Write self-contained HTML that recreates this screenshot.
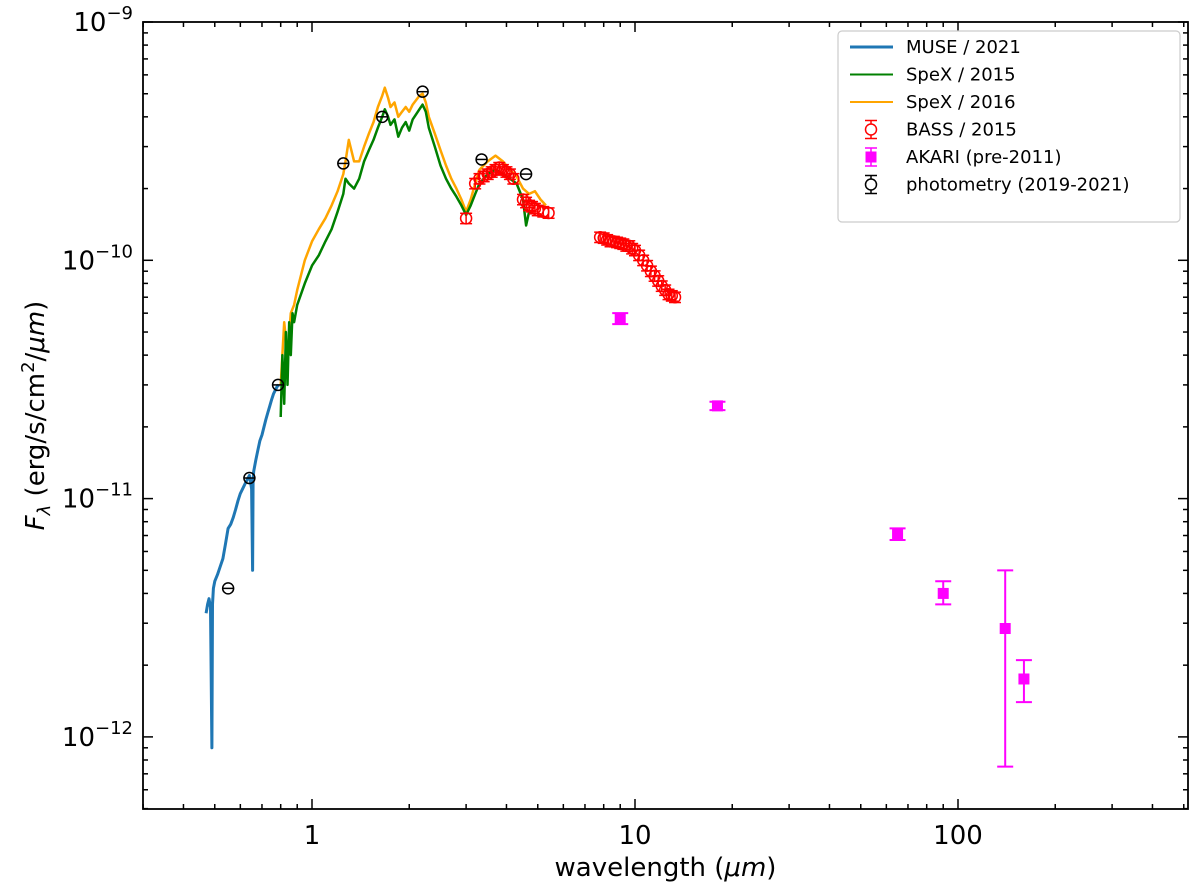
<!DOCTYPE html>
<html><head><meta charset="utf-8">
<style>
html,body{margin:0;padding:0;background:#fff;}
svg{display:block;font-family:"DejaVu Sans","Liberation Sans",sans-serif;}
</style></head>
<body>
<svg id="chart" width="1200" height="889" viewBox="0 0 1200 889" xmlns="http://www.w3.org/2000/svg">
</svg>
<script>
// ---- data ----
const museX=[0.47,0.475,0.48,0.485,0.49,0.492,0.495,0.50,0.51,0.52,0.53,0.54,0.55,0.56,0.57,0.58,0.59,0.60,0.61,0.62,0.63,0.64,0.65,0.655,0.657,0.66,0.67,0.68,0.69,0.70,0.71,0.72,0.73,0.74,0.75,0.76,0.77,0.78,0.79];
const museY=[3.3e-12,3.6e-12,3.8e-12,3.5e-12,9e-13,3.6e-12,4.2e-12,4.5e-12,4.8e-12,5.2e-12,5.6e-12,6.5e-12,7.5e-12,7.8e-12,8.3e-12,9e-12,9.8e-12,1.05e-11,1.1e-11,1.15e-11,1.2e-11,1.25e-11,1.1e-11,5e-12,1.2e-11,1.3e-11,1.45e-11,1.6e-11,1.75e-11,1.85e-11,2e-11,2.15e-11,2.3e-11,2.45e-11,2.6e-11,2.75e-11,2.85e-11,2.95e-11,3e-11];
const spex15X=[0.8,0.81,0.82,0.83,0.84,0.85,0.86,0.87,0.88,0.9,0.95,1.0,1.05,1.1,1.15,1.2,1.25,1.27,1.3,1.35,1.4,1.45,1.5,1.55,1.6,1.65,1.68,1.72,1.75,1.8,1.85,1.9,1.95,2.0,2.05,2.1,2.15,2.2,2.25,2.3,2.4,2.5,2.6,2.7,2.8,2.9,3.0,3.1,3.2,3.3,3.5,3.7,3.9,4.1,4.3,4.5,4.6,4.7,4.8];
const spex15Y=[2.2e-11,4e-11,2.5e-11,5e-11,3e-11,5.5e-11,4e-11,6e-11,5.5e-11,6.5e-11,8e-11,9.5e-11,1.05e-10,1.2e-10,1.35e-10,1.6e-10,1.9e-10,2.2e-10,2.1e-10,2.0e-10,2.2e-10,2.6e-10,2.9e-10,3.2e-10,3.6e-10,4.0e-10,4.3e-10,4.0e-10,3.7e-10,3.9e-10,3.3e-10,3.6e-10,3.8e-10,3.5e-10,3.9e-10,4.1e-10,4.3e-10,4.5e-10,4.2e-10,3.6e-10,3.0e-10,2.5e-10,2.2e-10,2.0e-10,1.85e-10,1.7e-10,1.55e-10,1.7e-10,1.9e-10,2.1e-10,2.3e-10,2.4e-10,2.3e-10,2.2e-10,2.1e-10,1.8e-10,1.4e-10,1.6e-10,1.6e-10];
const spex16X=[0.8,0.82,0.84,0.86,0.88,0.9,0.95,1.0,1.05,1.1,1.15,1.2,1.25,1.27,1.3,1.35,1.4,1.45,1.5,1.55,1.6,1.65,1.68,1.72,1.75,1.8,1.85,1.9,1.95,2.0,2.05,2.1,2.15,2.2,2.25,2.3,2.4,2.5,2.6,2.7,2.8,2.9,3.0,3.1,3.2,3.3,3.5,3.7,3.9,4.1,4.3,4.5,4.7,4.9,5.1,5.3];
const spex16Y=[3e-11,5.5e-11,4e-11,6e-11,6.5e-11,7.5e-11,1e-10,1.2e-10,1.35e-10,1.5e-10,1.7e-10,1.95e-10,2.3e-10,2.6e-10,3.2e-10,2.6e-10,2.6e-10,3.0e-10,3.4e-10,3.8e-10,4.4e-10,4.9e-10,5.3e-10,4.8e-10,4.4e-10,4.6e-10,4.0e-10,4.2e-10,4.4e-10,4.2e-10,4.5e-10,4.7e-10,4.9e-10,5.0e-10,4.6e-10,4.0e-10,3.4e-10,2.9e-10,2.5e-10,2.2e-10,2.0e-10,1.8e-10,1.6e-10,1.8e-10,2.1e-10,2.4e-10,2.6e-10,2.75e-10,2.6e-10,2.4e-10,2.25e-10,2.0e-10,1.9e-10,1.95e-10,1.8e-10,1.7e-10];
const bassX=[3.0,3.2,3.3,3.4,3.5,3.6,3.7,3.8,3.9,4.0,4.1,4.2,4.5,4.6,4.7,4.8,4.9,5.0,5.2,5.4,7.8,8.0,8.2,8.4,8.6,8.8,9.0,9.2,9.4,9.6,9.8,10.0,10.3,10.6,10.9,11.2,11.5,11.8,12.1,12.4,12.7,13.0,13.3];
const bassY=[1.5e-10,2.1e-10,2.2e-10,2.25e-10,2.3e-10,2.35e-10,2.4e-10,2.45e-10,2.4e-10,2.35e-10,2.3e-10,2.2e-10,1.8e-10,1.75e-10,1.7e-10,1.68e-10,1.65e-10,1.62e-10,1.6e-10,1.58e-10,1.25e-10,1.24e-10,1.22e-10,1.2e-10,1.2e-10,1.19e-10,1.18e-10,1.17e-10,1.15e-10,1.15e-10,1.12e-10,1.1e-10,1.05e-10,1.0e-10,0.95e-10,0.9e-10,0.86e-10,0.82e-10,0.78e-10,0.75e-10,0.72e-10,0.71e-10,0.7e-10];
const akariX=[9,18,65,90,140,160];
const akariY=[5.7e-11,2.45e-11,7.1e-12,4.0e-12,2.85e-12,1.75e-12];
const akariLo=[5.4e-11,2.35e-11,6.7e-12,3.6e-12,7.5e-13,1.4e-12];
const akariHi=[6.0e-11,2.55e-11,7.5e-12,4.5e-12,5.0e-12,2.1e-12];
const photX=[0.55,0.64,0.785,1.25,1.65,2.2,3.35,4.6];
const photY=[4.2e-12,1.22e-11,3.0e-11,2.55e-10,4.0e-10,5.1e-10,2.65e-10,2.3e-10];
const xTickVals=[1,10,100];
const xTickLabels=["1","10","100"];
const yTickExps=[-12,-11,-10,-9];

// ---- axes ----
const L=143,R=1188,T=22,B=809;
const X1=312, DX=323, Y9=22, DY=238.3;
const xs=v=>X1+Math.log10(v)*DX;
const ys=v=>Y9+(-9-Math.log10(v))*DY;
const svg=document.getElementById('chart');
const NS="http://www.w3.org/2000/svg";
function mk(tag,attrs,parent){const e=document.createElementNS(NS,tag);for(const k in attrs)e.setAttribute(k,attrs[k]);(parent||svg).appendChild(e);return e;}

const clip=mk('clipPath',{id:'pc'});mk('rect',{x:L,y:T,width:R-L,height:B-T},clip);

const tg=mk('g',{stroke:'#000','stroke-width':1.5});


for(let e=-1;e<=2;e++){for(let m=1;m<10;m++){const v=m*Math.pow(10,e);const x=xs(v);if(x<L||x>R)continue;const len=m===1?10:5;
 mk('line',{x1:x,x2:x,y1:B,y2:B-len},tg);mk('line',{x1:x,x2:x,y1:T,y2:T+len},tg);}}
for(let e=-13;e<=-9;e++){for(let m=1;m<10;m++){const v=m*Math.pow(10,e);const y=ys(v);if(y<T-0.5||y>B)continue;const len=m===1?10:5;
 mk('line',{x1:L,x2:L+len,y1:y,y2:y},tg);mk('line',{x1:R,x2:R-len,y1:y,y2:y},tg);}}
xTickVals.forEach((v,i)=>{const t=mk('text',{x:xs(v),y:B+35,'font-size':26,'text-anchor':'middle'});t.textContent=xTickLabels[i];
 
 });
yTickExps.forEach(e=>{const y=ys(Math.pow(10,e));const t=mk('text',{x:L-10,y:y+9,'font-size':26,'text-anchor':'end'});
 t.innerHTML='10<tspan dy="-12" font-size="18">−'+(-e)+'</tspan>';
 
 });
const xt=mk('text',{x:(L+R)/2,y:876,'font-size':26,'text-anchor':'middle'});xt.innerHTML='wavelength (<tspan font-style="italic">μm</tspan>)';


const yt=mk('text',{x:0,y:0,'font-size':26,'text-anchor':'middle',transform:'translate(44,'+((T+B)/2)+') rotate(-90)'});
yt.innerHTML='<tspan font-style="italic">F</tspan><tspan font-style="italic" font-size="18" dy="6">λ</tspan><tspan dy="-6"> (erg/s/cm</tspan><tspan font-size="18" dy="-10">2</tspan><tspan dy="10">/</tspan><tspan font-style="italic">μm</tspan>)';



const pg=mk('g',{'clip-path':'url(#pc)'});
function line(X,Y,color,w,name){const d=X.map((x,i)=>(i?'L':'M')+xs(x).toFixed(1)+','+ys(Y[i]).toFixed(1)).join('');
 const p=mk('path',{d:d,fill:'none',stroke:color,'stroke-width':w,'stroke-linejoin':'round'},pg);
 
 }
line(spex16X,spex16Y,'#ffa500',2.5,'spex-2016-line');
line(spex15X,spex15Y,'#008000',2.5,'spex-2015-line');
line(museX,museY,'#1f77b4',3,'muse-2021-line');
bassX.forEach((x,i)=>{const cx=xs(x),cy=ys(bassY[i]);const y1=ys(bassY[i]*1.05),y2=ys(bassY[i]*0.95);
 const g=mk('g',{stroke:'red','stroke-width':1.5,fill:'none'},pg);
 
 
 mk('line',{x1:cx,x2:cx,y1:y1,y2:y2},g);mk('line',{x1:cx-6,x2:cx+6,y1:y1,y2:y1},g);mk('line',{x1:cx-6,x2:cx+6,y1:y2,y2:y2},g);
 mk('circle',{cx:cx,cy:cy,r:5.5},g);});
akariX.forEach((x,i)=>{const cx=xs(x),cy=ys(akariY[i]);const y1=ys(akariHi[i]),y2=ys(akariLo[i]);
 const g=mk('g',{stroke:'#ff00ff','stroke-width':2,fill:'#ff00ff'},pg);
 
 
 mk('line',{x1:cx,x2:cx,y1:y1,y2:y2},g);mk('line',{x1:cx-8,x2:cx+8,y1:y1,y2:y1},g);mk('line',{x1:cx-8,x2:cx+8,y1:y2,y2:y2},g);
 mk('rect',{x:cx-5.5,y:cy-5.5,width:11,height:11,stroke:'none'},g);});
photX.forEach((x,i)=>{const cx=xs(x),cy=ys(photY[i]);
 const g=mk('g',{stroke:'#000','stroke-width':1.5,fill:'none'},pg);
 
 
 mk('line',{x1:cx-5.5,x2:cx+5.5,y1:cy,y2:cy},g);mk('circle',{cx:cx,cy:cy,r:5.5},g);});

const fr=mk('rect',{x:L,y:T,width:R-L,height:B-T,fill:'none',stroke:'#000','stroke-width':1.8});



const lg=mk('g',{});


mk('rect',{x:838,y:31,width:342,height:191,rx:4,fill:'#fff',stroke:'#ccc','stroke-width':1.2},lg);
const items=[['MUSE / 2021','line','#1f77b4',3],['SpeX / 2015','line','#008000',2],['SpeX / 2016','line','#ffa500',2],['BASS / 2015','circ','red'],['AKARI (pre-2011)','sq','#ff00ff'],['photometry (2019-2021)','circ','#000']];
items.forEach((it,i)=>{const y=47+i*27.5;const g=mk('g',{},lg);
 
 
 if(it[1]==='line'){mk('line',{x1:850,x2:893,y1:y,y2:y,stroke:it[2],'stroke-width':it[3]},g);}
 else{const cx=871;mk('line',{x1:cx,x2:cx,y1:y-9,y2:y+9,stroke:it[2],'stroke-width':1.5},g);
  mk('line',{x1:cx-6,x2:cx+6,y1:y-9,y2:y-9,stroke:it[2],'stroke-width':1.5},g);mk('line',{x1:cx-6,x2:cx+6,y1:y+9,y2:y+9,stroke:it[2],'stroke-width':1.5},g);
  if(it[1]==='sq')mk('rect',{x:cx-5.5,y:y-5.5,width:11,height:11,fill:it[2]},g);
  else mk('circle',{cx:cx,cy:y,r:5.5,fill:'#fff',stroke:it[2],'stroke-width':1.5},g);}
 const t=mk('text',{x:906,y:y+6,'font-size':18},g);t.textContent=it[0];});
</script>
</body></html>
